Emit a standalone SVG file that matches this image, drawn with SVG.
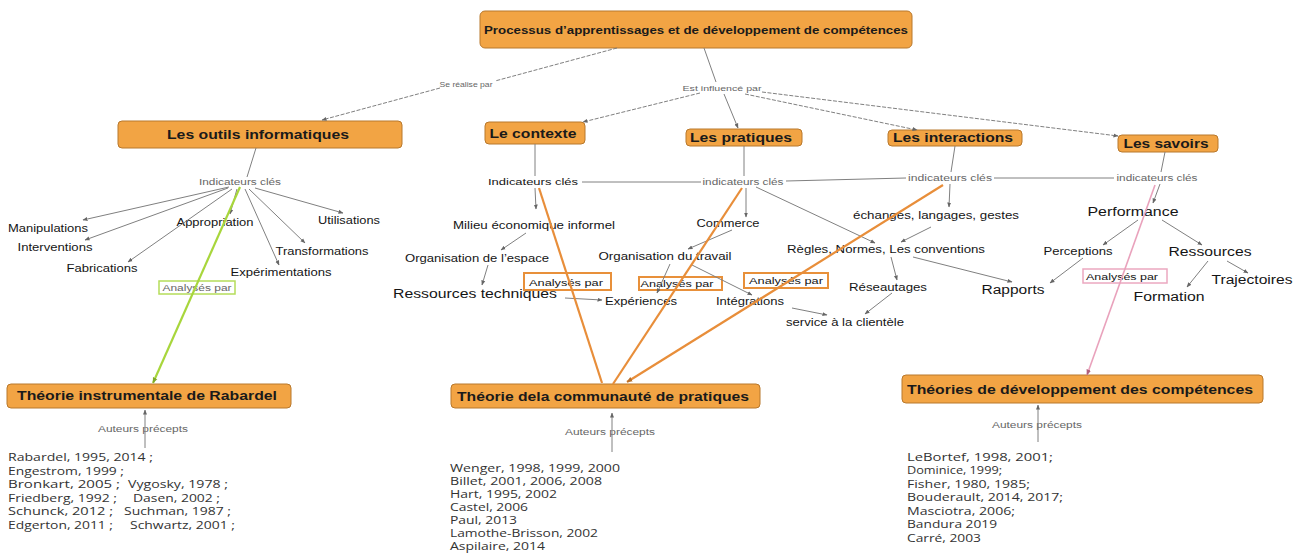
<svg xmlns="http://www.w3.org/2000/svg" width="1303" height="553" viewBox="0 0 1303 553">
<style>
.bg{fill:#ffffff}
.box{fill:#F2A444;stroke:#B8782C;stroke-width:1}
.nl{font-family:"Liberation Sans",Arial,sans-serif;font-weight:bold;fill:#1a1a1a;text-anchor:middle;dominant-baseline:central}
.tx{font-family:"Liberation Sans",Arial,sans-serif;fill:#151515;text-anchor:middle;dominant-baseline:central}
.lb{font-family:"Liberation Sans",Arial,sans-serif;fill:#666;text-anchor:middle;dominant-baseline:central}
.au{font-family:"Open Sans","Liberation Sans",sans-serif;fill:#333;font-size:11.5px}
.ob{fill:#ffffff;stroke:#E8903A;stroke-width:2}
.gb{fill:#ffffff;stroke:#B5DD5A;stroke-width:1.5}
.pb{fill:#ffffff;stroke:#EBA8C0;stroke-width:1.5}
.ln{stroke:#808080;stroke-width:1;fill:none}
.dl{stroke:#808080;stroke-width:1;fill:none;stroke-dasharray:4 1.5}
.or{stroke:#E88E3A;stroke-width:2.2;fill:none}
.gr{stroke:#A8D63C;stroke-width:2.2;fill:none}
.pk{stroke:#E9A2BC;stroke-width:1.6;fill:none}
</style>
<defs>
<marker id="ag" viewBox="0 0 10 10" refX="9" refY="5" markerWidth="5" markerHeight="5" markerUnits="userSpaceOnUse" orient="auto"><path d="M0,1 L10,5 L0,9 z" fill="#666"/></marker>
<marker id="ao" viewBox="0 0 10 10" refX="9" refY="5" markerWidth="6" markerHeight="6" markerUnits="userSpaceOnUse" orient="auto"><path d="M0,1 L10,5 L0,9 z" fill="#B8702A"/></marker>
<marker id="agr" viewBox="0 0 10 10" refX="9" refY="5" markerWidth="6" markerHeight="6" markerUnits="userSpaceOnUse" orient="auto"><path d="M0,1 L10,5 L0,9 z" fill="#7FA82A"/></marker>
<marker id="apk" viewBox="0 0 10 10" refX="9" refY="5" markerWidth="6" markerHeight="6" markerUnits="userSpaceOnUse" orient="auto"><path d="M0,1 L10,5 L0,9 z" fill="#B0607A"/></marker>
</defs>
<rect class="bg" x="0" y="0" width="1303" height="553"/>

<g id="n-title"><rect class="box" x="480" y="11" width="432" height="37" rx="5"/><text class="nl" x="696" y="30" font-size="10.5" textLength="424" lengthAdjust="spacingAndGlyphs">Processus d’apprentissages et de développement de compétences</text></g>
<g id="l-realise"><text class="lb" x="466" y="84" font-size="7.5" textLength="53" lengthAdjust="spacingAndGlyphs">Se réalise par</text></g>
<g id="l-influence"><text class="lb" x="722" y="88" font-size="8" textLength="79" lengthAdjust="spacingAndGlyphs">Est influencé par</text></g>

<g id="n-outils"><rect class="box" x="118" y="121" width="284" height="27" rx="4"/><text class="nl" x="258" y="135" font-size="12" textLength="182" lengthAdjust="spacingAndGlyphs">Les outils informatiques</text></g>
<g id="n-contexte"><rect class="box" x="485" y="122" width="100" height="22" rx="4"/><text class="nl" x="533" y="134" font-size="12" textLength="87" lengthAdjust="spacingAndGlyphs">Le contexte</text></g>
<g id="n-pratiques"><rect class="box" x="686" y="129" width="116" height="17" rx="4"/><text class="nl" x="741" y="138" font-size="12" textLength="102" lengthAdjust="spacingAndGlyphs">Les pratiques</text></g>
<g id="n-interactions"><rect class="box" x="888" y="130" width="134" height="16" rx="4"/><text class="nl" x="953" y="138" font-size="12" textLength="120" lengthAdjust="spacingAndGlyphs">Les interactions</text></g>
<g id="n-savoirs"><rect class="box" x="1118" y="135" width="100" height="17" rx="4"/><text class="nl" x="1166" y="143.5" font-size="12" textLength="85" lengthAdjust="spacingAndGlyphs">Les savoirs</text></g>

<g id="n-rabardel"><rect class="box" x="7" y="384" width="284" height="24" rx="4"/><text class="nl" x="147" y="396" font-size="12" textLength="260" lengthAdjust="spacingAndGlyphs">Théorie instrumentale de Rabardel</text></g>
<g id="n-communaute"><rect class="box" x="451" y="384" width="309" height="24" rx="4"/><text class="nl" x="603" y="397" font-size="12" textLength="292" lengthAdjust="spacingAndGlyphs">Théorie dela communauté de pratiques</text></g>
<g id="n-theories"><rect class="box" x="902" y="375" width="361" height="28" rx="4"/><text class="nl" x="1080" y="390" font-size="12" textLength="346" lengthAdjust="spacingAndGlyphs">Théories de développement des compétences</text></g>

<g id="i-outils"><text class="lb" x="240" y="182" font-size="8.5" fill="#555" textLength="82" lengthAdjust="spacingAndGlyphs">Indicateurs clés</text></g>
<g id="i-contexte"><text class="tx" x="533" y="182" font-size="9" textLength="90" lengthAdjust="spacingAndGlyphs">Indicateurs clés</text></g>
<g id="i-pratiques"><text class="lb" x="743" y="182" font-size="8.5" textLength="81" lengthAdjust="spacingAndGlyphs">indicateurs clés</text></g>
<g id="i-interactions"><text class="lb" x="950" y="178" font-size="8.5" textLength="84" lengthAdjust="spacingAndGlyphs">indicateurs clés</text></g>
<g id="i-savoirs"><text class="lb" x="1157" y="178" font-size="8.5" textLength="81" lengthAdjust="spacingAndGlyphs">indicateurs clés</text></g>

<g id="c-manip"><text class="tx" x="48" y="228" font-size="10.5" textLength="80" lengthAdjust="spacingAndGlyphs">Manipulations</text></g>
<g id="c-interv"><text class="tx" x="55" y="247" font-size="10.5" textLength="75" lengthAdjust="spacingAndGlyphs">Interventions</text></g>
<g id="c-fabric"><text class="tx" x="102" y="268" font-size="10.5" textLength="71" lengthAdjust="spacingAndGlyphs">Fabrications</text></g>
<g id="c-approp"><text class="tx" x="215" y="222" font-size="10.5" textLength="77" lengthAdjust="spacingAndGlyphs">Appropriation</text></g>
<g id="c-util"><text class="tx" x="349" y="220" font-size="10.5" textLength="62" lengthAdjust="spacingAndGlyphs">Utilisations</text></g>
<g id="c-transf"><text class="tx" x="322" y="251" font-size="10.5" textLength="93" lengthAdjust="spacingAndGlyphs">Transformations</text></g>
<g id="c-exper"><text class="tx" x="281" y="272" font-size="10.5" textLength="101" lengthAdjust="spacingAndGlyphs">Expérimentations</text></g>

<g id="c-milieu"><text class="tx" x="534" y="225" font-size="10.5" textLength="162" lengthAdjust="spacingAndGlyphs">Milieu économique informel</text></g>
<g id="c-orgesp"><text class="tx" x="477" y="258" font-size="10.5" textLength="144" lengthAdjust="spacingAndGlyphs">Organisation de l’espace</text></g>
<g id="c-restech"><text class="tx" x="475" y="294" font-size="12.5" textLength="164" lengthAdjust="spacingAndGlyphs">Ressources techniques</text></g>
<g id="c-experiences"><text class="tx" x="641" y="301" font-size="10.5" textLength="72" lengthAdjust="spacingAndGlyphs">Expériences</text></g>

<g id="c-commerce"><text class="tx" x="728" y="223" font-size="10.5" textLength="63" lengthAdjust="spacingAndGlyphs">Commerce</text></g>
<g id="c-orgtrav"><text class="tx" x="665" y="256" font-size="10.5" textLength="133" lengthAdjust="spacingAndGlyphs">Organisation du travail</text></g>
<g id="c-integ"><text class="tx" x="750" y="301" font-size="10.5" textLength="68" lengthAdjust="spacingAndGlyphs">Intégrations</text></g>

<g id="c-echanges"><text class="tx" x="936" y="215" font-size="10.5" textLength="166" lengthAdjust="spacingAndGlyphs">échanges, langages, gestes</text></g>
<g id="c-regles"><text class="tx" x="886" y="249" font-size="10.5" textLength="198" lengthAdjust="spacingAndGlyphs">Règles, Normes, Les conventions</text></g>
<g id="c-reseau"><text class="tx" x="888" y="287" font-size="10.5" textLength="78" lengthAdjust="spacingAndGlyphs">Réseautages</text></g>
<g id="c-rapports"><text class="tx" x="1013" y="290" font-size="12.5" textLength="63" lengthAdjust="spacingAndGlyphs">Rapports</text></g>
<g id="c-service"><text class="tx" x="845" y="322" font-size="10" textLength="118" lengthAdjust="spacingAndGlyphs">service à la clientèle</text></g>

<g id="c-perf"><text class="tx" x="1133" y="212" font-size="12.5" textLength="91" lengthAdjust="spacingAndGlyphs">Performance</text></g>
<g id="c-percep"><text class="tx" x="1078" y="251" font-size="10.5" textLength="69" lengthAdjust="spacingAndGlyphs">Perceptions</text></g>
<g id="c-ressources"><text class="tx" x="1210" y="252" font-size="12.5" textLength="83" lengthAdjust="spacingAndGlyphs">Ressources</text></g>
<g id="c-formation"><text class="tx" x="1169" y="297" font-size="12.5" textLength="71" lengthAdjust="spacingAndGlyphs">Formation</text></g>
<g id="c-traj"><text class="tx" x="1252" y="280" font-size="12.5" textLength="81" lengthAdjust="spacingAndGlyphs">Trajectoires</text></g>

<g id="a-green"><rect class="gb" x="159" y="281" width="76" height="13"/><text class="lb" x="197" y="287.5" font-size="8.5" textLength="69" lengthAdjust="spacingAndGlyphs">Analysés par</text></g>
<g id="a-orange1"><rect class="ob" x="524" y="273" width="87" height="17"/><text class="tx" x="566" y="283" font-size="9" fill="#333" textLength="74" lengthAdjust="spacingAndGlyphs">Analysés par</text></g>
<g id="a-orange2"><rect class="ob" x="639" y="277" width="83" height="13"/><text class="tx" x="677" y="283.5" font-size="9" fill="#333" textLength="73" lengthAdjust="spacingAndGlyphs">Analysés par</text></g>
<g id="a-orange3"><rect class="ob" x="744" y="273" width="84" height="15"/><text class="tx" x="786" y="281" font-size="9" fill="#333" textLength="74" lengthAdjust="spacingAndGlyphs">Analysés par</text></g>
<g id="a-pink"><rect class="pb" x="1083" y="269" width="84" height="14"/><text class="tx" x="1122" y="276.5" font-size="8.5" fill="#444" textLength="72" lengthAdjust="spacingAndGlyphs">Analysés par</text></g>

<g id="l-auteurs1"><text class="lb" x="143" y="429" font-size="8.5" textLength="90" lengthAdjust="spacingAndGlyphs">Auteurs précepts</text></g>
<g id="l-auteurs2"><text class="lb" x="610" y="432" font-size="8.5" textLength="90" lengthAdjust="spacingAndGlyphs">Auteurs précepts</text></g>
<g id="l-auteurs3"><text class="lb" x="1037" y="425" font-size="8.5" textLength="90" lengthAdjust="spacingAndGlyphs">Auteurs précepts</text></g>

<g id="list-rabardel" class="au">
<text x="8" y="461" textLength="145" lengthAdjust="spacingAndGlyphs">Rabardel, 1995, 2014 ;</text>
<text x="8" y="475" textLength="116" lengthAdjust="spacingAndGlyphs">Engestrom, 1999 ;</text>
<text y="488"><tspan x="8" textLength="112" lengthAdjust="spacingAndGlyphs">Bronkart, 2005 ;</tspan><tspan x="128" textLength="100" lengthAdjust="spacingAndGlyphs">Vygosky, 1978 ;</tspan></text>
<text y="502"><tspan x="8" textLength="109" lengthAdjust="spacingAndGlyphs">Friedberg, 1992 ;</tspan><tspan x="133" textLength="87" lengthAdjust="spacingAndGlyphs">Dasen, 2002 ;</tspan></text>
<text y="515"><tspan x="8" textLength="105" lengthAdjust="spacingAndGlyphs">Schunck, 2012 ;</tspan><tspan x="124" textLength="107" lengthAdjust="spacingAndGlyphs">Suchman, 1987 ;</tspan></text>
<text y="529"><tspan x="8" textLength="105" lengthAdjust="spacingAndGlyphs">Edgerton, 2011 ;</tspan><tspan x="130" textLength="105" lengthAdjust="spacingAndGlyphs">Schwartz, 2001 ;</tspan></text>
</g>
<g id="list-communaute" class="au">
<text x="450" y="472" textLength="170" lengthAdjust="spacingAndGlyphs">Wenger, 1998, 1999, 2000</text>
<text x="450" y="485" textLength="152" lengthAdjust="spacingAndGlyphs">Billet, 2001, 2006, 2008</text>
<text x="450" y="498" textLength="107" lengthAdjust="spacingAndGlyphs">Hart, 1995, 2002</text>
<text x="450" y="511" textLength="78" lengthAdjust="spacingAndGlyphs">Castel, 2006</text>
<text x="450" y="524" textLength="67" lengthAdjust="spacingAndGlyphs">Paul, 2013</text>
<text x="450" y="537" textLength="148" lengthAdjust="spacingAndGlyphs">Lamothe-Brisson, 2002</text>
<text x="450" y="550" textLength="95" lengthAdjust="spacingAndGlyphs">Aspilaire, 2014</text>
</g>
<g id="list-theories" class="au">
<text x="907" y="461" textLength="146" lengthAdjust="spacingAndGlyphs">LeBortef, 1998, 2001;</text>
<text x="907" y="474" textLength="95" lengthAdjust="spacingAndGlyphs">Dominice, 1999;</text>
<text x="907" y="488" textLength="123" lengthAdjust="spacingAndGlyphs">Fisher, 1980, 1985;</text>
<text x="907" y="501" textLength="156" lengthAdjust="spacingAndGlyphs">Bouderault, 2014, 2017;</text>
<text x="907" y="515" textLength="108" lengthAdjust="spacingAndGlyphs">Masciotra, 2006;</text>
<text x="907" y="528" textLength="90" lengthAdjust="spacingAndGlyphs">Bandura 2019</text>
<text x="907" y="542" textLength="74" lengthAdjust="spacingAndGlyphs">Carré, 2003</text>
</g>

<g id="connectors">
<line class="dl" x1="617" y1="48" x2="495" y2="81"/>
<line class="dl" x1="440" y1="88" x2="322" y2="120" marker-end="url(#ag)"/>
<line class="ln" x1="704" y1="48" x2="716" y2="82"/>
<line class="ln" x1="724" y1="94" x2="738" y2="128" marker-end="url(#ag)"/>
<line class="dl" x1="700" y1="93" x2="583" y2="122" marker-end="url(#ag)"/>
<line class="dl" x1="745" y1="94" x2="917" y2="130" marker-end="url(#ag)"/>
<line class="dl" x1="762" y1="92" x2="1118" y2="136" marker-end="url(#ag)"/>

<line class="ln" x1="256" y1="148" x2="247" y2="177"/>
<line class="ln" x1="229" y1="187" x2="83" y2="220" marker-end="url(#ag)"/>
<line class="ln" x1="228" y1="188" x2="85" y2="240" marker-end="url(#ag)"/>
<line class="ln" x1="232" y1="189" x2="128" y2="262" marker-end="url(#ag)"/>
<line class="ln" x1="237" y1="189" x2="230" y2="214" marker-end="url(#ag)"/>
<line class="ln" x1="255" y1="188" x2="343" y2="213" marker-end="url(#ag)"/>
<line class="ln" x1="249" y1="189" x2="305" y2="243" marker-end="url(#ag)"/>
<line class="ln" x1="245" y1="189" x2="279" y2="265" marker-end="url(#ag)"/>

<line class="ln" x1="535" y1="144" x2="535" y2="176"/>
<line class="ln" x1="535" y1="188" x2="536" y2="209" marker-end="url(#ag)"/>
<line class="ln" x1="526" y1="233" x2="501" y2="250" marker-end="url(#ag)"/>
<line class="ln" x1="488" y1="265" x2="482" y2="285" marker-end="url(#ag)"/>
<line class="ln" x1="565" y1="298" x2="602" y2="300" marker-end="url(#ag)"/>
<line class="ln" x1="582" y1="182" x2="701" y2="182"/>
<line class="ln" x1="786" y1="181" x2="906" y2="178"/>
<line class="ln" x1="994" y1="178" x2="1114" y2="178"/>

<line class="ln" x1="744" y1="146" x2="744" y2="176"/>
<line class="ln" x1="746" y1="188" x2="746" y2="217" marker-end="url(#ag)"/>
<line class="ln" x1="732" y1="230" x2="688" y2="249" marker-end="url(#ag)"/>
<line class="ln" x1="692" y1="265" x2="752" y2="295" marker-end="url(#ag)"/>
<line class="ln" x1="670" y1="264" x2="657" y2="293" marker-end="url(#ag)"/>
<line class="ln" x1="756" y1="187" x2="875" y2="243" marker-end="url(#ag)"/>

<line class="ln" x1="955" y1="146" x2="951" y2="172"/>
<line class="ln" x1="950" y1="184" x2="949" y2="207" marker-end="url(#ag)"/>
<line class="ln" x1="931" y1="227" x2="901" y2="242" marker-end="url(#ag)"/>
<line class="ln" x1="891" y1="257" x2="897" y2="280" marker-end="url(#ag)"/>
<line class="ln" x1="913" y1="257" x2="1012" y2="282" marker-end="url(#ag)"/>
<line class="ln" x1="792" y1="308" x2="827" y2="315" marker-end="url(#ag)"/>
<line class="ln" x1="892" y1="293" x2="865" y2="314" marker-end="url(#ag)"/>

<line class="ln" x1="1165" y1="152" x2="1161" y2="172"/>
<line class="ln" x1="1160" y1="184" x2="1153" y2="203" marker-end="url(#ag)"/>
<line class="ln" x1="1138" y1="220" x2="1103" y2="245" marker-end="url(#ag)"/>
<line class="ln" x1="1162" y1="220" x2="1202" y2="245" marker-end="url(#ag)"/>
<line class="ln" x1="1083" y1="258" x2="1050" y2="283" marker-end="url(#ag)"/>
<line class="ln" x1="1208" y1="261" x2="1187" y2="287" marker-end="url(#ag)"/>
<line class="ln" x1="1227" y1="261" x2="1248" y2="273" marker-end="url(#ag)"/>

<line class="ln" x1="145" y1="448" x2="145" y2="410" marker-end="url(#ag)"/>
<line class="ln" x1="612" y1="452" x2="612" y2="413" marker-end="url(#ag)"/>
<line class="ln" x1="1038" y1="442" x2="1038" y2="405" marker-end="url(#ag)"/>

<line class="or" x1="539" y1="188" x2="602" y2="383"/>
<line class="or" x1="742" y1="188" x2="613" y2="384"/>
<line class="or" x1="943" y1="185" x2="627" y2="382" marker-end="url(#ao)"/>
<line class="gr" x1="240" y1="187" x2="153" y2="383" marker-end="url(#agr)"/>
<line class="pk" x1="1155" y1="185" x2="1087" y2="375" marker-end="url(#apk)"/>
</g>
</svg>
